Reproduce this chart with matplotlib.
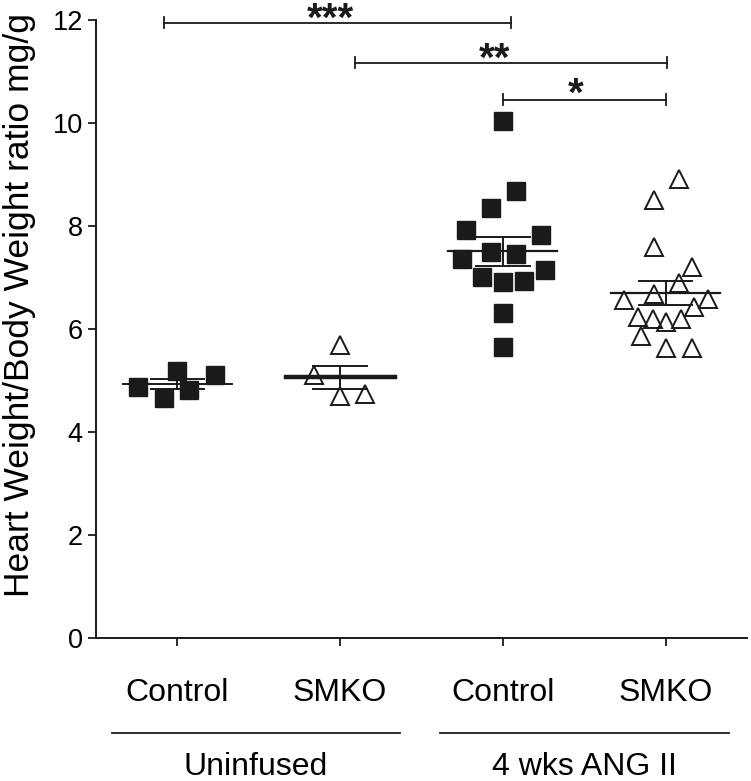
import numpy as np
import matplotlib
matplotlib.use('Agg')

import matplotlib.pyplot as plt
import matplotlib.transforms as mtransforms

plt.rcParams['font.family'] = ['Liberation Sans', 'DejaVu Sans']

CATEGORIES = ['Control', 'SMKO', 'Control', 'SMKO']
GROUP_NAMES = ['Uninfused', '4 wks ANG II']

# values, with the horizontal scatter offset of each point
ctrl_uninf = [4.87, 4.66, 5.18, 4.82, 5.11]
ctrl_uninf_dx = [-0.24, -0.08, 0.0, 0.074, 0.234]
smko_uninf = [5.69, 5.11, 4.70, 4.74]
smko_uninf_dx = [0.0, -0.16, 0.0, 0.154]
ctrl_ang = [10.04, 8.68, 8.35, 7.92, 7.83, 7.50, 7.46, 7.36, 7.15, 7.01, 6.91, 6.93, 6.31, 5.65]
ctrl_ang_dx = [0.0, 0.08, -0.074, -0.227, 0.234, -0.074, 0.08, -0.252, 0.258, -0.129, 0.0, 0.129, 0.0, 0.0]
smko_ang = [8.91, 8.50, 7.59, 7.20, 6.89, 6.68, 6.56, 6.58, 6.43, 6.23, 6.19, 6.14, 6.19, 5.86, 5.63, 5.63]
smko_ang_dx = [0.08, -0.074, -0.074, 0.16, 0.08, -0.074, -0.258, 0.258, 0.172, -0.172, -0.08, 0.0, 0.092, -0.154, 0.0, 0.16]

# significance brackets: (x start, x end, y, label, label x, label baseline y)
brackets = [
    (0.92, 3.05, 11.95, '***', 1.94, 11.80),
    (2.09, 4.01, 11.17, '**', 2.95, 11.01),
    (3.00, 4.00, 10.45, '*', 3.45, 10.33),
]


def draw_group(ax, x0, values, offsets, marker, mean_lw):
    values = np.array(values)
    xs = x0 + np.array(offsets)
    if marker == 's':
        ax.plot(xs, values, 's', color='#1a1a1a', markersize=12.5, zorder=2)
    else:
        ax.plot(xs, values, '^', markerfacecolor='none', markeredgecolor='#1a1a1a',
                markeredgewidth=1.4, markersize=13, zorder=2)
    mean = values.mean()
    sem = values.std(ddof=1) / np.sqrt(len(values))
    ax.plot([x0 - 0.335, x0 + 0.335], [mean, mean], color='#1a1a1a', lw=mean_lw, zorder=3)
    for y in (mean - sem, mean + sem):
        ax.plot([x0 - 0.165, x0 + 0.165], [y, y], color='#1a1a1a', lw=1.4, zorder=3)
    ax.plot([x0, x0], [mean - sem, mean + sem], color='#1a1a1a', lw=1.4, zorder=3)


def plot():
    fig = plt.figure(figsize=(7.51, 7.81), dpi=100)
    ax = fig.add_axes([96 / 751, 143 / 781, 651 / 751, 618 / 781])

    draw_group(ax, 1, ctrl_uninf, ctrl_uninf_dx, 's', 1.4)
    draw_group(ax, 2, smko_uninf, smko_uninf_dx, '^', 3.2)
    draw_group(ax, 3, ctrl_ang, ctrl_ang_dx, 's', 1.6)
    draw_group(ax, 4, smko_ang, smko_ang_dx, '^', 1.6)

    for x1, x2, y, label, lx, ly in brackets:
        ax.plot([x1, x2], [y, y], color='#1a1a1a', lw=1.3, clip_on=False)
        for x in (x1, x2):
            ax.plot([x, x], [y - 0.11, y + 0.11], color='#1a1a1a', lw=1.3, clip_on=False)
        ax.text(lx, ly, label, ha='center', va='baseline', fontsize=29, fontweight='bold',
                color='#1a1a1a', clip_on=False)

    ax.set_xlim(0.5, 4.5)
    ax.set_ylim(0, 12)
    ax.set_yticks([0, 2, 4, 6, 8, 10, 12])
    ax.set_xticks([1, 2, 3, 4])
    ax.set_xticklabels([])
    ax.tick_params(axis='both', length=6, width=1.3, color='#1a1a1a', labelsize=19.5, pad=3.5)
    for side in ('top', 'right'):
        ax.spines[side].set_visible(False)
    for side in ('left', 'bottom'):
        ax.spines[side].set_linewidth(1.4)
        ax.spines[side].set_color('#1a1a1a')

    ax.set_ylabel('Heart Weight/Body Weight ratio mg/g', fontsize=25.5)
    ax.yaxis.set_label_coords(-0.092, 0.539)

    trans = mtransforms.blended_transform_factory(ax.transData, fig.transFigure)
    for i, name in enumerate(CATEGORIES):
        ax.text(i + 1, (781 - 701) / 781, name, transform=trans, ha='center', va='baseline',
                fontsize=23)

    for (px1, px2), name in zip([(112, 400), (440, 729)], GROUP_NAMES):
        fig.add_artist(plt.Line2D([px1 / 751, px2 / 751], [48 / 781, 48 / 781],
                                  color='#1a1a1a', lw=1.3, transform=fig.transFigure))
        fig.text((px1 + px2) / 2 / 751, 6 / 781, name, ha='center', va='baseline', fontsize=23)

    fig.savefig('out.png', dpi=100)
    plt.close(fig)


if __name__ == '__main__':
    plot()
